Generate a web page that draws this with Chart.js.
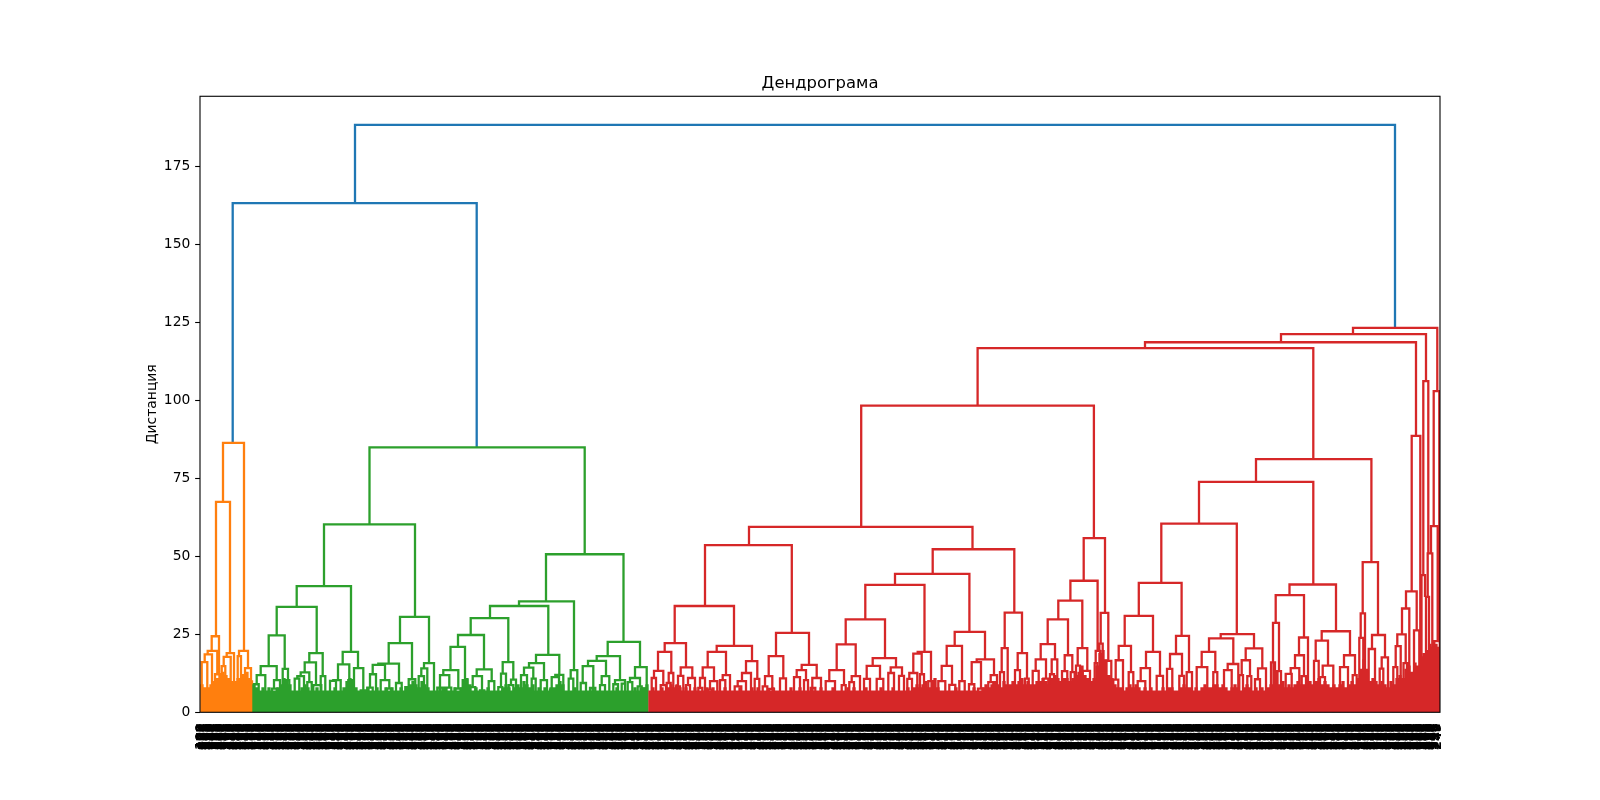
<!DOCTYPE html>
<html lang="ru">
<head>
<meta charset="utf-8">
<title>Дендрограма</title>
<script src="https://cdn.jsdelivr.net/npm/chart.js@4/dist/chart.umd.min.js"></script>
<style>
  html, body { margin: 0; padding: 0; background: #fff; }
  canvas { display: block; }
</style>
</head>
<body>
<canvas id="dendro" width="1600" height="800"></canvas>
<script>
// ============================================================================
// Data. A link is [left leaf pos, right leaf pos, distance]
// ============================================================================
const TITLE = 'Дендрограма';
const Y_LABEL = 'Дистанция';
const Y_TICKS = [0, 25, 50, 75, 100, 125, 150, 175];
const X_MAX = 1240;
const Y_MAX = 197.6;

const linksBlue = [
  [155, 1195, 188.4],
  [32.7, 276.7, 163.3],
];

const linksOrange = [
  [23, 44, 86.4], [16, 30, 67.5], [11.7, 19, 24.4], [7.7, 17.3, 19.7], [4.7, 12, 18.6],
  [1.7, 7.3, 16.1], [15, 20, 12.2], [26.7, 34, 19], [23.7, 30.7, 17.8], [21.7, 25.3, 14.8],
  [39, 48, 19.7], [37.7, 41, 18], [45, 51, 14.2], [43.3, 46.7, 11.9], [48.7, 52, 9.9],
];

const linksGreen = [
  [169.5, 384.7, 85], [124, 215, 60.3], [96.7, 151, 40.5], [76.7, 116.7, 33.8], [68.7, 84.7, 24.7],
  [60.7, 76.7, 14.8], [56.7, 65.3, 11.9], [54, 58.7, 9], [74, 80, 10.3], [72, 76.7, 7.6],
  [82.7, 88, 13.9], [86, 89.3, 10.3], [109.3, 122.7, 19], [104.7, 116, 16], [100.7, 109.3, 12.8],
  [97.3, 104, 11.6], [94.7, 99.3, 10.8], [107.3, 111.7, 9.7], [113.3, 121.3, 8.7], [120.7, 125.3, 11.6],
  [142.7, 158, 19.4], [138, 149.3, 15.4], [133.3, 140.7, 10.3], [130, 136, 10.1], [148.3, 154, 10.3],
  [154, 163.3, 14.2], [160.7, 165.3, 7],
  [200, 229, 30.6], [188.7, 212, 22.2], [178.3, 199, 15.6], [172.7, 185, 15.2], [170, 176, 12.2],
  [167.3, 172.7, 7.9], [180.7, 189.3, 10.3], [186.7, 191.3, 7.6], [196, 201.7, 9.4],
  [208.7, 215.3, 10.6], [205.3, 209.3, 8.1], [224, 234, 15.8], [221.3, 227.3, 14.1], [218.7, 224, 11.6],
  [231.7, 236, 6.5],
  [346, 423.5, 50.7], [319, 374, 35.6], [290, 348.3, 34.1], [270.7, 308.3, 30.2], [258, 284, 24.8],
  [250.5, 265, 21], [243.3, 258.3, 13.5], [240, 249.3, 11.9], [237.3, 242.7, 7.9], [245, 251.3, 7.9],
  [255, 261.7, 7.6], [262.7, 267.3, 10.3], [276.7, 291.7, 13.8], [272.7, 282, 11.6], [270, 275.3, 8.1],
  [280, 284.3, 7], [288.7, 294.3, 10], [286.7, 290, 6.5], [302.7, 313.3, 16.1], [301, 306, 12.4],
  [311, 316, 10.5], [308.7, 313.3, 8.7], [298.3, 302.3, 8.1], [336, 359.3, 18.4], [329, 344, 15.8],
  [324, 333.3, 14.3], [321, 327, 11.9], [331.7, 335.7, 10.8], [340.7, 347, 10.3], [355.3, 363.3, 12],
  [351.7, 359, 11.3], [350, 355.3, 7.3], [370.7, 377.3, 13.5], [368.7, 373.3, 10.8],
  [407.7, 440, 22.6], [396.7, 420, 18], [388, 406, 16.5], [382.7, 393.3, 14.8], [380.7, 386, 9.4],
  [390, 395.3, 7.8], [401.7, 409.3, 11.6], [400, 405, 8.7], [415, 425, 10.3], [413.3, 418, 9],
  [421.7, 425, 9.2], [435, 446.7, 14.5], [430, 440, 11], [427.7, 432.3, 9.7], [437.7, 441.7, 8.3],
  [443.3, 447, 7.6],
];

const linksRed = [
  // top of the red cluster
  [1153, 1237.3, 123.3], [1081, 1226, 121.3], [945, 1216, 118.7], [777.6, 1113.3, 116.8],
  [661.2, 893.9, 98.4], [549, 772.5, 59.5], [505, 591.8, 53.6], [732.7, 814.3, 52.3],
  [883.7, 905, 55.9], [1056, 1171.4, 81.2], [999, 1113.3, 73.9], [961.3, 1036.8, 60.5],
  [1162.7, 1178, 48.2], [1089.5, 1136, 41], [938.8, 981.6, 41.5],
  // far right column
  [1211.7, 1220.3, 88.7], [1206, 1216.7, 38.8], [1202, 1209.3, 33.3], [1214, 1219.3, 26.3],
  [1197.3, 1205.7, 25], [1195.7, 1200.7, 21.2], [1193.3, 1197.3, 14.5], [1203.5, 1207, 15.8],
  [1223.3, 1228.3, 106.2], [1233.7, 1239.3, 103], [1231, 1237.7, 59.7], [1227.7, 1232.3, 51],
  [1221.5, 1225, 44], [1226, 1229, 37], [1234.3, 1239.8, 22.8],
  // 450 - 610
  [474.7, 534, 34.1], [464.7, 486, 22.2], [458, 471.3, 19.4], [454, 463.3, 13.3], [451.7, 456, 11],
  [460.7, 466, 8.7], [468.7, 473.3, 12.6], [466.7, 470.7, 9.4], [480.7, 492.3, 14.4], [478, 483.3, 11.7],
  [476, 480, 8.3], [488, 495, 11], [486, 490, 8.7], [516.7, 552, 21.3], [507.7, 526, 19.4],
  [502.7, 514, 14.4], [500, 505, 11], [498.3, 502.3, 7.8], [510, 517.3, 10], [507.7, 512.3, 7.3],
  [522.7, 530, 11.9], [520, 525.3, 10.3], [546, 557.3, 16.4], [542, 551, 12.6], [537.7, 546, 10],
  [534.7, 541.3, 8.3], [554.7, 559.3, 10.7], [576, 609, 25.5], [568.7, 583.3, 18], [565, 572.3, 11.6],
  [562.7, 567.3, 8.3], [569.3, 574, 7.5], [580, 586, 10.9], [601.7, 616.7, 15.2], [596.7, 606, 13.5],
  [594, 600, 11.3], [604, 608, 10.3], [612.3, 621, 11], [610.7, 615.3, 7.8],
  // 625 - 830
  [695, 769.4, 44.4], [665.3, 724.5, 40.9], [645.7, 685, 29.8], [636.7, 655.7, 21.8], [629.3, 644, 13.5],
  [625.7, 635, 10], [641.7, 645.7, 8.7], [651.7, 660, 11.6], [649.3, 654, 9.7], [672.7, 696, 17.4],
  [666.7, 680, 14.9], [664, 670, 10.7], [676.7, 683.3, 10.7], [690.7, 702, 14.4], [688.3, 694, 12.6],
  [699, 704, 11.7], [717.7, 731, 19.4], [713.3, 721.7, 18.8], [709.3, 717.3, 12.6], [707.3, 712, 10.7],
  [720, 724, 12.2], [728.3, 733.3, 10], [754.7, 785, 25.8], [746.7, 762, 21.3], [741.7, 752, 14.9],
  [738.3, 745.3, 10], [749.3, 755.3, 8.8], [759.3, 764.7, 10], [776.7, 794, 17], [771.7, 781, 16.1],
  [769, 774.3, 9], [778, 783, 7.6], [790.7, 797, 11.9], [788.3, 793.3, 9.7], [804.7, 822, 32],
  [801.7, 807.7, 20.6], [800, 804, 12.9], [817.7, 827, 19], [815, 820, 13.5], [825, 828.7, 10.8],
  // 830 - 915
  [870.4, 897.6, 42.2], [858.3, 882.3, 35.8], [847.7, 868, 29.8], [840.7, 855, 21.9], [835.7, 846, 17],
  [832.7, 838.7, 13.3], [843.3, 848.3, 10.8], [851.7, 857.3, 17], [850, 854, 12.2], [864.7, 872.3, 18.3],
  [862, 867.3, 13.2], [870.7, 874.7, 12.9], [877.7, 887.3, 20.6], [876, 880, 15], [882.7, 890, 13.3],
  [900.7, 908.3, 31.9], [895.7, 900, 19.7], [894.7, 897.3, 15.8], [899.3, 902.7, 22], [905.7, 911.3, 16.5],
  // 915 - 1000
  [924.7, 953, 30.9], [918.7, 931, 21.3], [915.7, 923, 16.7], [913.3, 918.3, 10.5], [928.7, 933.3, 12.9],
  [946, 960, 19.4], [940.7, 950, 14.2], [937.7, 945.3, 10], [956.7, 963, 11.7], [976, 989, 24.5],
  [970, 982, 18.7], [967, 972.3, 13.9], [979.3, 984, 11.7], [986.7, 992, 12.9],
  // 1000 - 1195
  [1020.7, 1054, 25.1], [1009, 1033.3, 23.7], [1001.7, 1015.3, 19.4], [996.7, 1007.3, 14.5],
  [1013.3, 1017.3, 12.9], [1027.7, 1038.3, 15.5], [1024, 1031.7, 13.5], [1045.7, 1062.3, 20.5],
  [1041.7, 1050, 16.7], [1039.3, 1043, 11.9], [1047.3, 1051.3, 11.6], [1058, 1066, 14.1], [1055, 1060, 10.6],
  [1075.7, 1104, 37.6], [1073, 1079, 28.7], [1071, 1075, 16], [1076.7, 1081, 13.2], [1099, 1108, 24],
  [1095, 1104, 18.3], [1090.7, 1099.3, 14.2], [1085.7, 1091.7, 12.3], [1101.7, 1106, 11.6],
  [1121.7, 1150, 26], [1115.7, 1128, 23], [1114, 1118.7, 16.5], [1122.7, 1133.3, 15], [1120, 1125, 11.3],
  [1144, 1155, 18.3], [1140, 1148, 14.5], [1152.7, 1156.7, 11.9], [1160.7, 1165, 31.7], [1159.3, 1163.3, 23.9],
  [1172, 1185, 24.8], [1168.7, 1175, 20.3], [1181.7, 1188, 17.6], [1179.7, 1183.3, 14],
];

// heights of the dense bottom mass, one value every FLOOR_STEP leaf positions
const FLOOR_STEP = 3;
const floorStartOrange = 2;
const floorOrange = [9, 8, 8, 9, 10, 11, 12, 13, 12, 11, 10, 10, 11, 11, 12, 13, 11];
const floorStartGreen = 54;
const floorGreen = [
  9, 8, 7, 8, 7, 8, 7, 7, 8, 9,
  11, 10, 9, 7, 7, 7, 8, 9, 8, 7,
  7, 8, 7, 7, 7, 7, 7, 8, 7, 7,
  8, 10, 11, 10, 8, 7, 7, 7, 8, 7,
  7, 8, 7, 7, 8, 7, 8, 7, 7, 8,
  7, 8, 9, 10, 9, 8, 10, 9, 8, 7,
  7, 7, 8, 7, 8, 7, 7, 8, 7, 8,
  10, 11, 9, 7, 8, 7, 7, 7, 8, 7,
  7, 7, 7, 8, 9, 8, 7, 8, 9, 8,
  10, 9, 8, 9, 7, 8, 7, 8, 7, 8,
  8, 9, 10, 9, 7, 7, 7, 8, 7, 7,
  7, 7, 7, 8, 7, 7, 7, 7, 7, 7,
  7, 8, 7, 7, 7, 7, 7, 8, 7, 8,
  8, 9,
];
const floorStartRed = 450;
const floorRed = [
  7, 8, 7, 7, 8, 7, 8, 9, 8, 9,
  8, 7, 8, 7, 7, 8, 7, 7, 7, 8,
  7, 8, 7, 7, 7, 8, 7, 7, 7, 7,
  8, 7, 7, 7, 8, 7, 8, 7, 7, 7,
  7, 8, 7, 7, 7, 7, 7, 8, 7, 7,
  8, 7, 7, 7, 8, 7, 7, 8, 7, 7,
  7, 8, 7, 7, 7, 7, 8, 7, 8, 7,
  7, 7, 8, 7, 7, 7, 7, 8, 7, 7,
  7, 8, 7, 7, 7, 7, 8, 7, 8, 9,
  8, 9, 10, 8, 10, 11, 8, 7, 7, 7,
  7, 7, 8, 7, 7, 7, 7, 7, 8, 7,
  7, 8, 9, 8, 9, 10, 9, 8, 10, 9,
  9, 10, 9, 10, 11, 9, 10, 9, 9, 10,
  10, 11, 10, 9, 11, 12, 11, 10, 11, 11,
  10, 11, 12, 13, 15, 12, 11, 10, 11, 15,
  19, 20, 17, 12, 11, 9, 8, 8, 7, 8,
  9, 8, 9, 8, 7, 8, 7, 8, 7, 7,
  7, 8, 7, 8, 8, 7, 7, 8, 9, 8,
  8, 7, 8, 7, 8, 9, 8, 8, 9, 9,
  8, 9, 8, 7, 8, 9, 8, 7, 8, 9,
  8, 7, 8, 7, 8, 7, 8, 9, 16, 13,
  9, 10, 8, 9, 8, 9, 10, 9, 9, 8,
  10, 9, 10, 11, 9, 10, 9, 8, 9, 8,
  9, 10, 8, 9, 10, 9, 11, 14, 17, 14,
  10, 11, 10, 9, 10, 9, 8, 10, 9, 11,
  12, 11, 14, 15, 13, 16, 15, 18, 19, 20,
  22, 21, 22, 21,
];

// leaf ids under the axis are packed into a solid band, the ids can't be read,
// so they are only shuffled the way a dendrogram leaf order shuffles them
const LEAF_STEP = 1;
const leafIds = Array.from({ length: 1238 }, (_, i) => String(100 + ((i * 377) % 900)));

// ============================================================================
// Building the datasets
// ============================================================================
const tousLesLiens = [...linksBlue, ...linksOrange, ...linksGreen, ...linksRed];

// a leg goes down to the tallest link centred under it, otherwise into the mass
function basDeJambe(x, top) {
  let bas = 0;
  for (const [g, d, h] of tousLesLiens) {
    if (h < top - 0.05 && h > bas && Math.abs((g + d) / 2 - x) <= 2.5) bas = h;
  }
  return bas;
}

function pointsDesLiens(liens) {
  const pts = [];
  for (const [g, d, h] of liens) {
    pts.push({ x: g, y: basDeJambe(g, h) }, { x: g, y: h });
    pts.push({ x: d, y: h }, { x: d, y: basDeJambe(d, h) });
    pts.push({ x: d, y: null });
  }
  return pts;
}

function pointsDuFond(debut, hauteurs) {
  const pts = [];
  hauteurs.forEach((h, i) => {
    const x = debut + i * FLOOR_STEP;
    pts.push({ x: x, y: 0 }, { x: x, y: h }, { x: x, y: null });
  });
  return pts;
}

function serie(data, couleur, largeur) {
  return {
    data: data,
    showLine: true,
    spanGaps: false,
    borderColor: couleur,
    backgroundColor: couleur,
    borderWidth: largeur,
    borderJoinStyle: 'miter',
    borderCapStyle: 'butt',
    pointRadius: 0,
    pointHoverRadius: 0,
    tension: 0,
    fill: false,
  };
}

const ORANGE = '#ff7f0e', GREEN = '#2ca02c', RED = '#d62728', BLUE = '#1f77b4';
const LIEN = 2.3, FOND = 3.3;

// frame on all four sides, like matplotlib axes
const cadre = {
  id: 'cadre',
  afterDraw(chart) {
    const { ctx, chartArea: a } = chart;
    ctx.save();
    ctx.strokeStyle = '#000';
    ctx.lineWidth = 1.1;
    ctx.strokeRect(a.left, a.top, a.right - a.left, a.bottom - a.top);
    ctx.restore();
  },
};

new Chart(document.getElementById('dendro'), {
  type: 'scatter',
  data: {
    datasets: [
      serie(pointsDuFond(floorStartRed, floorRed), RED, FOND),
      serie(pointsDuFond(floorStartGreen, floorGreen), GREEN, FOND),
      serie(pointsDuFond(floorStartOrange, floorOrange), ORANGE, FOND),
      serie(pointsDesLiens(linksRed), RED, LIEN),
      serie(pointsDesLiens(linksGreen), GREEN, LIEN),
      serie(pointsDesLiens(linksOrange), ORANGE, LIEN),
      serie(pointsDesLiens(linksBlue), BLUE, LIEN),
    ],
  },
  plugins: [cadre],
  options: {
    responsive: false,
    animation: false,
    devicePixelRatio: 1,
    layout: { padding: { left: 143.7, right: 160, top: 0, bottom: 0 } },
    plugins: {
      legend: { display: false },
      tooltip: { enabled: false },
      title: {
        display: true,
        text: TITLE,
        fullSize: false,
        color: '#000',
        font: { family: '"DejaVu Sans"', size: 16.4, weight: 'normal', lineHeight: 1.2 },
        padding: { top: 74, bottom: 2.6 },
      },
    },
    scales: {
      x: {
        type: 'linear',
        min: 0,
        max: X_MAX,
        grid: { display: false, drawTicks: false },
        border: { display: false },
        afterBuildTicks(axis) {
          axis.ticks = leafIds.map((_, i) => ({ value: LEAF_STEP + i * LEAF_STEP }));
        },
        afterFit(axis) { axis.height = 87.7; },
        ticks: {
          autoSkip: false,
          includeBounds: false,
          minRotation: 90,
          maxRotation: 90,
          padding: 11,
          color: '#000',
          font: { family: '"DejaVu Sans"', size: 12.8, weight: 'bold' },
          callback: (v) => leafIds[Math.round(v / LEAF_STEP) - 1],
        },
      },
      y: {
        min: 0,
        max: Y_MAX,
        grid: { drawOnChartArea: false, drawTicks: true, tickLength: 4.86, tickColor: '#000', tickWidth: 1.1 },
        border: { display: false },
        afterBuildTicks(axis) {
          axis.ticks = Y_TICKS.map((v) => ({ value: v }));
        },
        afterFit(axis) { axis.width = 56.3; },
        title: {
          display: true,
          text: Y_LABEL,
          color: '#000',
          font: { family: '"DejaVu Sans"', size: 13.89, lineHeight: 1.2 },
          padding: 0,
        },
        ticks: {
          padding: 4.8,
          color: '#000',
          font: { family: '"DejaVu Sans"', size: 13.89 },
        },
      },
    },
  },
});
</script>
</body>
</html>
